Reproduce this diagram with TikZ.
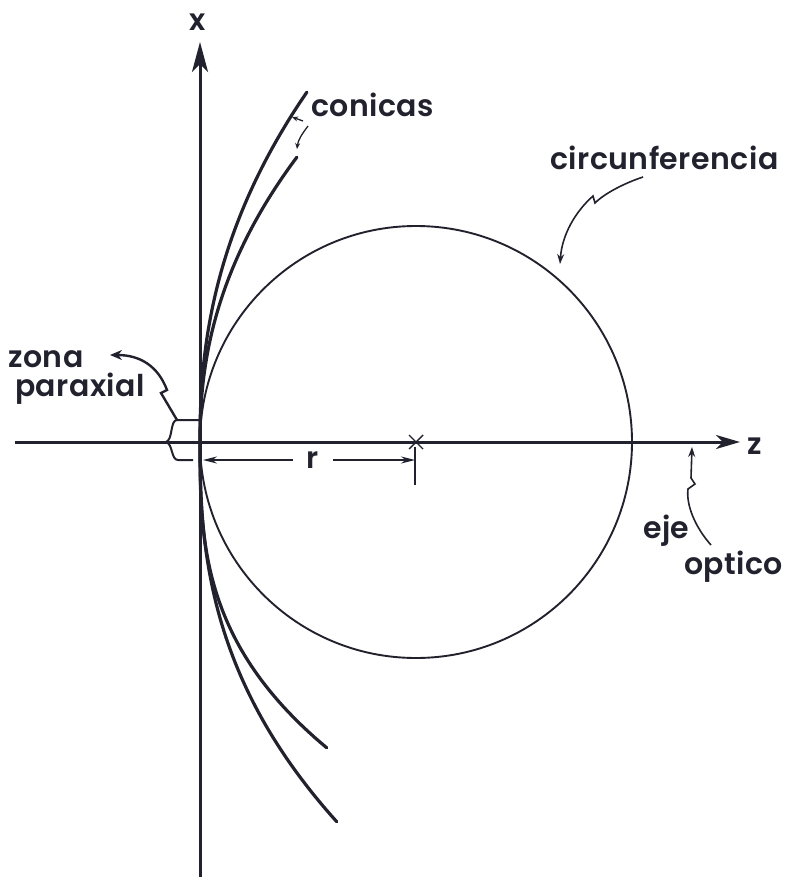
\documentclass[tikz,border=0pt]{standalone}
\usepackage{fontspec}
\setmainfont{Poppins}[BoldFont={Poppins SemiBold}, LetterSpace=1.5]
\usetikzlibrary{arrows.meta}
\definecolor{ink}{HTML}{22222E}
\begin{document}
\begin{tikzpicture}[x=1pt,y=-1pt,
  axis/.style={line width=3pt, draw=ink},
  conic/.style={line width=3.2pt, draw=ink, line cap=round},
  circ/.style={line width=1.9pt, draw=ink},
  pointer/.style={line width=1.6pt, draw=ink, -{Stealth[length=10pt,width=7pt]}},
  dim/.style={line width=1.3pt, draw=ink},
  lbl/.style={font=\fontsize{30}{32}\selectfont\bfseries, text=ink, inner sep=0pt}]
\useasboundingbox (0,0) rectangle (786,877);
\coordinate (O) at (200,442);
\coordinate (C) at (416,442);
\coordinate (xb) at (200,877);
\coordinate (xt) at (200,42);
\coordinate (zl) at (15,442);
\coordinate (zr) at (740,442);
% axes
\draw[axis,-{Stealth[length=30pt,width=16pt,inset=8pt]}] (xb) -- (xt);
\draw[axis,-{Stealth[length=24pt,width=14pt,inset=7pt]}] (zl) -- (zr);
\node[lbl] (xlab) at (198,22) {x};
\node[lbl, anchor=west] (zlab) at (747,446) {z};
% circle
\draw[circ] (C) circle[radius=216pt];
\draw[dim, line width=1.4pt] ([shift={(-7,-7)}]C) -- ([shift={(7,7)}]C);
\draw[dim, line width=1.4pt] ([shift={(-7,7)}]C) -- ([shift={(7,-7)}]C);
% conics
\draw[conic] (O) -- plot[domain=0.01:1, samples=60] ({200+107*(\x)^2.25}, {442-350*\x});
\draw[conic] (O) -- plot[domain=0.01:1, samples=60] ({200+97*(\x)^2.2}, {442-285*\x});
\draw[conic] (O) -- plot[domain=0.01:1, samples=60] ({200+127*(\x)^2.9}, {442+306*\x});
\draw[conic] (O) -- plot[domain=0.01:1, samples=60] ({200+137*(\x)^2.5}, {442+380*\x});
% r dimension
\coordinate (r1) at (203,460);
\coordinate (r2) at (415,460);
\node[lbl, minimum width=40pt, minimum height=20pt] (rlab) at (313,460) {r};
\draw[dim, -{Stealth[length=14pt,width=7pt]}] (rlab.west) -- (r1);
\draw[dim, -{Stealth[length=14pt,width=7pt]}] (rlab.east) -- (r2);
\coordinate (tk1) at (415,447);
\coordinate (tk2) at (415,485);
\draw[dim] (tk1) -- (tk2);
% paraxial bracket
\coordinate (bt) at (200,420);
\coordinate (bb) at (193,460);
\draw[dim, line width=2pt] (bt) -- (177,420) .. controls (170,420) and (173,440) .. (166,442) .. controls (173,444) and (171,460) .. (178,460) -- (bb);
% labels
\node[lbl, anchor=base west] (zona) at (8,367) {zona};
\node[lbl, anchor=base west] (parax) at (15,396) {paraxial};
\node[lbl, anchor=base west] (conicas) at (311,117) {conicas};
\node[lbl, anchor=base west] (circun) at (550,170) {circunferencia};
\node[lbl, anchor=base west] (eje) at (643,538) {eje};
\node[lbl, anchor=base west] (optico) at (684,574) {optico};
% pointers
\draw[pointer, line width=2.4pt, -{Stealth[length=12pt,width=10pt]}] (177,420) -- (161,393) -- (167,390) .. controls (158,366) and (140,355) .. (110,355);
\coordinate (c1s) at (303,121);
\coordinate (c1e) at (292,117);
\draw[pointer, line width=1.3pt, -{Stealth[length=6pt,width=5pt]}] (c1s) -- (c1e);
\coordinate (c2s) at (308,126);
\coordinate (c2e) at (297,149);
\draw[pointer, line width=1.3pt, -{Stealth[length=6pt,width=5pt]}] (c2s) .. controls (302,134) and (298,140) .. (c2e);
\coordinate (cs) at (643,177);
\coordinate (ce) at (560,264);
\draw[pointer] (cs) .. controls (625,183) and (605,193) .. (595,203) -- (593,196) .. controls (575,212) and (562,235) .. (ce);
\coordinate (es) at (711,545);
\coordinate (ee) at (692,447);
\draw[pointer] (es) .. controls (695,527) and (686,505) .. (688,489) -- (695,484) -- (691,478) -- (ee);
\end{tikzpicture}
\end{document}
